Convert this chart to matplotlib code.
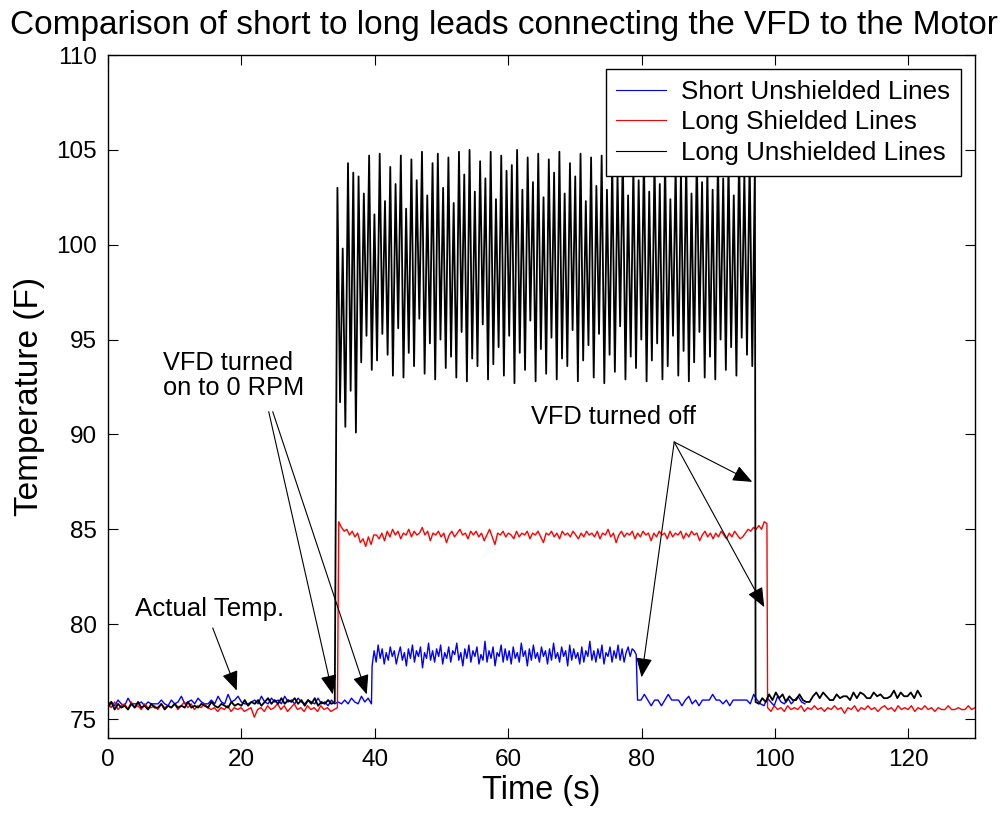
import numpy as np
import matplotlib
matplotlib.use("Agg")
import matplotlib.pyplot as plt

plt.rcParams['font.family'] = ['Liberation Sans', 'DejaVu Sans']

# --- data (time in s, temperature in F) ---
black_pre = [
    75.6, 75.9, 75.5, 75.8, 75.6, 75.7, 75.5, 75.8, 75.6, 75.9,
    75.6, 75.7, 75.5, 75.8, 75.6, 75.6, 75.8, 75.5, 75.7, 75.6,
    75.8, 75.6, 75.7, 75.6, 75.9, 75.6, 75.7, 75.6, 75.8, 75.7,
    75.6, 75.9, 75.7, 75.6, 75.8, 75.7, 75.6, 75.9, 75.7, 75.8,
    75.7, 76.0, 75.7, 75.9, 75.8, 76.0, 75.7, 75.9, 76.1, 75.8,
    76.0, 75.8, 76.1, 75.8, 76.0, 75.9, 76.1, 75.8, 76.0, 75.7,
    76.0, 75.8, 76.1, 75.7, 75.9, 75.8, 76.0, 75.8, 75.9]
black_on = [
    103.0, 91.7, 99.8, 90.4, 104.3, 92.3, 103.8, 90.1, 103.6, 93.8,
    102.7, 95.2, 104.7, 93.4, 101.6, 93.9, 104.8, 95.3, 102.3, 94.2,
    104.1, 93.1, 103.2, 95.6, 104.7, 93.0, 101.9, 94.3, 104.5, 93.6,
    103.4, 96.1, 104.9, 93.2, 102.6, 94.8, 104.3, 92.9, 104.8, 95.0,
    103.0, 93.5, 104.6, 94.1, 102.2, 93.0, 104.9, 95.4, 103.7, 92.8,
    105.0, 94.0, 102.8, 93.6, 104.4, 95.8, 103.5, 92.9, 104.9, 93.7,
    102.4, 94.6, 104.7, 93.1, 103.9, 95.2, 104.2, 92.7, 105.0, 94.3,
    102.9, 93.4, 104.6, 96.0, 103.3, 92.8, 104.8, 94.5, 102.5, 93.2,
    104.5, 95.1, 103.8, 92.9, 104.9, 94.0, 102.7, 93.6, 104.3, 95.5,
    103.6, 92.8, 104.8, 93.9, 102.3, 94.7, 104.6, 93.0, 103.1, 95.3,
    104.7, 92.7, 102.9, 94.2, 104.4, 93.3, 103.7, 95.7, 104.9, 92.9,
    102.6, 94.1, 104.2, 93.5, 103.4, 95.0, 104.8, 92.8, 102.8, 93.9,
    104.5, 94.8, 103.2, 92.9, 104.7, 93.6, 102.4, 95.2, 104.3, 93.1,
    103.9, 94.4, 104.6, 92.8, 102.7, 93.8, 104.8, 95.4, 103.3, 93.0,
    104.1, 94.1, 102.9, 92.9, 104.7, 95.0, 103.5, 93.4, 104.4, 94.6,
    102.6, 93.1, 104.9, 95.1, 103.8, 94.2, 104.5, 93.6, 104.2]
black_post = [
    75.9, 75.8, 76.1, 75.9, 76.3, 76.0, 76.4, 76.1, 76.3, 75.9,
    76.2, 76.0, 76.0, 76.3, 76.0, 75.9, 75.9, 76.2, 76.4, 76.1,
    76.4, 76.2, 76.0, 76.0, 76.3, 76.1, 76.2, 76.2, 76.0, 76.4,
    76.1, 76.4, 76.3, 76.1, 76.1, 76.4, 76.2, 76.3, 76.1, 76.1,
    76.2, 76.5, 76.1, 76.4, 76.2, 76.2, 76.4, 76.1, 76.5, 76.2]

red_pre = [
    75.8, 75.6, 75.9, 75.5, 75.7, 75.8, 75.5, 75.9, 75.6, 75.7,
    75.5, 75.8, 75.6, 75.6, 75.7, 75.5, 75.8, 75.6, 75.7, 75.6,
    75.8, 75.5, 75.7, 75.9, 75.6, 75.8, 75.5, 75.7, 75.6, 75.8,
    75.6, 75.5, 75.6, 75.4, 75.6, 75.5, 75.7, 75.4, 75.6, 75.5,
    75.6, 75.4, 75.5, 75.6, 75.1, 75.5, 75.6, 75.4, 75.7, 75.5,
    75.6, 75.8, 75.5, 75.7, 75.4, 75.6, 75.8, 75.5, 75.6, 75.4,
    75.7, 75.5, 75.6, 75.4, 75.7, 75.5, 75.6, 75.4, 75.5, 75.6]
red_on = [
    85.4, 85.1, 84.9, 85.0, 84.7, 84.9, 84.6, 84.8, 84.3, 84.5,
    84.1, 84.6, 84.2, 84.7, 84.7, 84.5, 84.8, 84.4, 84.9, 84.6,
    85.0, 84.7, 84.9, 84.5, 84.8, 84.7, 85.0, 84.6, 84.9, 84.7,
    84.8, 85.1, 84.7, 84.9, 84.4, 84.8, 84.7, 84.9, 84.6, 84.8,
    84.3, 84.7, 84.9, 84.6, 84.8, 85.0, 84.7, 84.8, 84.5, 84.9,
    84.7, 84.9, 84.6, 84.8, 84.4, 84.7, 85.0, 84.6, 84.2, 84.8,
    84.7, 84.9, 84.6, 84.8, 84.7, 84.5, 84.9, 84.6, 84.8, 84.7,
    84.9, 84.5, 84.8, 84.7, 84.9, 84.6, 84.3, 84.8, 84.7, 84.9,
    84.6, 84.8, 84.5, 84.9, 84.7, 84.8, 84.6, 84.9, 84.7, 84.5,
    84.8, 84.6, 84.9, 84.7, 84.8, 84.6, 84.9, 84.5, 84.8, 84.7,
    85.0, 84.6, 84.8, 84.3, 84.7, 84.9, 84.6, 84.8, 84.7, 84.9,
    84.5, 84.8, 84.6, 84.9, 84.7, 84.8, 84.4, 84.8, 84.6, 84.9,
    84.7, 84.8, 84.5, 84.9, 84.6, 84.8, 84.7, 84.9, 84.5, 84.8,
    84.6, 84.9, 84.7, 84.8, 84.4, 84.7, 84.9, 84.6, 84.8, 84.5,
    84.8, 84.6, 84.9, 84.7, 84.5, 84.8, 84.6, 84.9, 84.7, 84.5,
    84.6, 84.8, 85.0, 84.9, 85.1, 85.0, 85.2, 85.0, 85.4, 85.3]
red_post = [
    75.6, 75.4, 75.7, 75.5, 75.6, 75.4, 75.7, 75.5, 75.6, 75.5,
    75.7, 75.4, 75.6, 75.5, 75.7, 75.5, 75.6, 75.4, 75.6, 75.5,
    75.7, 75.5, 75.6, 75.3, 75.6, 75.5, 75.7, 75.4, 75.6, 75.5,
    75.7, 75.5, 75.6, 75.4, 75.6, 75.7, 75.5, 75.6, 75.4, 75.7,
    75.5, 75.6, 75.5, 75.7, 75.4, 75.6, 75.5, 75.7, 75.5, 75.6,
    75.4, 75.6, 75.5, 75.5, 75.7, 75.5, 75.5, 75.6, 75.5, 75.5,
    75.7, 75.5, 75.6]

blue_pre = [
    75.8, 75.9, 75.7, 76.0, 75.8, 75.7, 76.1, 75.8, 75.8, 75.8,
    75.9, 75.7, 75.9, 75.8, 75.8, 75.8, 76.0, 75.8, 75.7, 76.0,
    75.8, 75.9, 76.2, 75.8, 75.9, 76.0, 75.8, 76.1, 75.9, 75.8,
    75.8, 76.0, 75.8, 76.2, 75.9, 75.8, 76.3, 75.9, 76.0, 76.2,
    75.9, 75.8, 75.8, 75.9, 76.0, 75.8, 76.2, 75.9, 75.8, 76.1,
    75.9, 76.0, 75.8, 76.2, 75.9, 76.0, 75.8, 76.1, 75.9, 75.8,
    76.0, 75.9, 75.8, 76.1, 75.8, 75.9, 75.7, 76.0, 75.8, 75.9,
    75.8, 76.0, 75.8, 76.1, 75.9, 75.8, 76.2, 75.9, 76.1, 75.8]
blue_on = [
    77.8, 78.6, 78.0, 78.9, 78.2, 78.7, 77.9, 78.5, 78.1, 78.8,
    78.3, 78.6, 77.9, 78.4, 78.8, 78.1, 78.5, 77.8, 78.7, 78.2,
    78.9, 78.0, 78.6, 78.3, 78.8, 77.7, 78.5, 78.2, 79.0, 78.1,
    78.6, 78.0, 78.7, 78.3, 78.9, 77.9, 78.5, 78.2, 78.8, 78.0,
    78.6, 78.4, 79.0, 78.1, 78.5, 77.8, 78.7, 78.2, 78.9, 78.0,
    78.6, 78.3, 78.8, 77.9, 78.4, 78.1, 79.1, 78.0, 78.6, 78.2,
    78.8, 77.8, 78.5, 78.3, 78.9, 78.0, 78.7, 78.1, 78.6, 77.9,
    78.8, 78.2, 78.5, 78.0, 79.0, 78.3, 78.6, 77.8, 78.7, 78.1,
    78.9, 78.2, 78.5, 78.0, 78.8, 78.3, 78.6, 77.9, 78.7, 78.1,
    79.0, 78.2, 78.5, 78.0, 78.8, 78.3, 78.6, 77.8, 78.9, 78.1,
    78.7, 78.2, 78.5, 77.9, 78.8, 78.0, 78.6, 78.3, 79.1, 78.1,
    78.6, 78.0, 78.7, 78.2, 78.9, 77.9, 78.5, 78.3, 78.8, 78.0,
    78.6, 78.2, 78.9, 78.1, 78.7, 78.0, 78.5, 78.8, 78.3, 78.7,
    78.6, 78.4]
blue_post = [
    76.0, 76.0, 76.3, 76.0, 75.7, 76.0, 76.0, 75.7, 76.0, 76.3,
    76.0, 76.0, 76.0, 75.7, 76.0, 76.2, 75.8, 76.0, 75.7, 76.0,
    76.0, 76.0, 76.3, 76.0, 76.0, 75.8, 76.0, 75.7, 76.0, 76.0,
    76.0, 76.0, 76.0, 75.8, 76.3, 76.0, 75.8, 75.7, 76.1, 75.9,
    75.7, 76.2, 75.9, 75.8, 76.1, 75.8, 76.0, 76.2, 75.9, 75.8]

# segment boundaries (s): VFD on / VFD off / end of recording
blue_span = [(0.0, 39.5), (39.6, 79.2), (79.4, 104.5)]
red_span = [(0.0, 34.4), (34.6, 98.8), (98.9, 130.0)]
black_span = [(0.0, 34.0), (34.4, 97.0), (97.1, 121.9)]


def series(parts, spans):
    t = np.concatenate([np.linspace(a, b, len(p)) for p, (a, b) in zip(parts, spans)])
    return t, np.concatenate(parts)


t_b, y_b = series([blue_pre, blue_on, blue_post], blue_span)
t_r, y_r = series([red_pre, red_on, red_post], red_span)
t_k, y_k = series([black_pre, black_on, black_post], black_span)

fig = plt.figure(figsize=(10.05, 8.15), dpi=100)
ax = fig.add_axes([108 / 1005, 1 - 738 / 815, 867 / 1005, 683 / 815])

ax.plot(t_b, y_b, color='#0000ff', lw=1.0, label='Short Unshielded Lines')
ax.plot(t_r, y_r, color='#ff0000', lw=1.0, label='Long Shielded Lines')
ax.plot(t_k, y_k, color='black', lw=1.3, label='Long Unshielded Lines')

ax.set_xlim(0, 130)
ax.set_ylim(74, 110)
ax.set_xticks(np.arange(0, 121, 20))
ax.set_yticks(np.arange(75, 111, 5))
ax.tick_params(direction='in', length=7, width=0.8, labelsize=17.5,
               top=True, right=True, pad=8)
for s in ax.spines.values():
    s.set_linewidth(1.0)

ax.set_xlabel('Time (s)', fontsize=23.5, labelpad=3)
ax.set_ylabel('Temperature (F)', fontsize=24, labelpad=8)
fig.text(504 / 1005, 1 - 34 / 815,
         'Comparison of short to long leads connecting the VFD to the Motor',
         ha='center', va='baseline', fontsize=24)

leg = ax.legend(loc='upper right', fontsize=18.7, frameon=True, fancybox=False,
                edgecolor='black', framealpha=1, handlelength=1.9,
                handletextpad=0.6, labelspacing=0.26, borderpad=0.4,
                borderaxespad=0.55)
leg.get_frame().set_linewidth(1.0)
for h in leg.get_lines():
    h.set_linewidth(0.8)

arrow = dict(arrowstyle='-|>,head_length=0.6,head_width=0.25', color='black',
             lw=0.8, shrinkA=0, shrinkB=0, mutation_scale=20)

ax.text(4.0, 80.8, 'Actual Temp.', fontsize=18.6, va='center', ha='left')
ax.annotate('', xy=(19.3, 76.5), xytext=(15.7, 79.8), arrowprops=arrow)

ax.text(8.2, 93.1, 'VFD turned\non to 0 RPM', fontsize=18.3, va='center',
        ha='left', linespacing=1.05)
ax.annotate('', xy=(33.7, 76.3), xytext=(24.1, 91.2), arrowprops=arrow)
ax.annotate('', xy=(38.8, 76.3), xytext=(24.7, 91.2), arrowprops=arrow)

ax.text(63.5, 90.9, 'VFD turned off', fontsize=18.3, va='center', ha='left')
ax.annotate('', xy=(96.6, 87.5), xytext=(84.9, 89.6), arrowprops=arrow)
ax.annotate('', xy=(98.4, 80.9), xytext=(84.9, 89.6), arrowprops=arrow)
ax.annotate('', xy=(80.0, 77.2), xytext=(84.9, 89.6), arrowprops=arrow)

fig.savefig('out.png', dpi=100)
